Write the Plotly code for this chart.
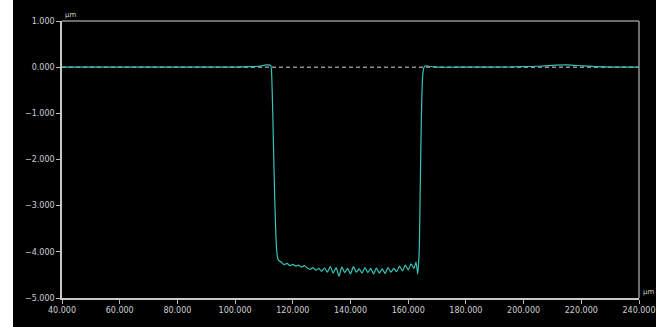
import plotly.graph_objects as go

# Profile data (x in µm, height in µm)
x_pos = [40, 60, 80, 100, 105, 108, 110, 111, 111.8, 112.4, 112.8, 113.2, 113.6, 114.0, 114.4, 114.8, 115.3,
         116, 117, 118, 119, 120, 121, 122, 123, 124, 125, 126, 127, 128, 129, 130,
         131, 132, 133, 134, 135, 136, 137, 138, 139, 140, 141, 142, 143, 144, 145,
         146, 147, 148, 149, 150, 151, 152, 153, 154, 155, 156, 157, 158, 159, 160,
         161, 162, 162.7, 163.3, 163.8, 164.2, 164.6, 165.0, 165.5, 166, 167, 170,
         180, 190, 200, 205, 210, 215, 220, 225, 230, 240]
height = [0.0, 0.0, 0.0, 0.0, 0.01, 0.02, 0.04, 0.05, 0.05, 0.03, -0.4, -1.4, -2.5, -3.4, -3.95, -4.15, -4.2,
          -4.22, -4.28, -4.25, -4.30, -4.27, -4.31, -4.29, -4.33, -4.30, -4.35, -4.38, -4.34, -4.40, -4.36, -4.42,
          -4.35, -4.44, -4.32, -4.46, -4.34, -4.53, -4.33, -4.45, -4.36, -4.48, -4.32, -4.44, -4.37, -4.46, -4.34,
          -4.45, -4.36, -4.48, -4.35, -4.46, -4.37, -4.47, -4.34, -4.44, -4.36, -4.43, -4.31, -4.41, -4.29, -4.39,
          -4.26, -4.36, -4.22, -4.48, -4.0, -2.5, -1.0, -0.2, 0.0, 0.03, 0.02, 0.0,
          0.0, 0.0, 0.01, 0.02, 0.04, 0.05, 0.03, 0.01, 0.0, 0.0]

ref_x = [40, 240]
ref_y = [0, 0]

x_ticks = [40, 60, 80, 100, 120, 140, 160, 180, 200, 220, 240]
y_ticks = [1, 0, -1, -2, -3, -4, -5]

fig = go.Figure()
fig.add_trace(go.Scatter(x=ref_x, y=ref_y, mode="lines",
                         line=dict(color="#d8d8d8", width=1, dash="4px,3px"),
                         hoverinfo="skip", showlegend=False))
fig.add_trace(go.Scatter(x=x_pos, y=height, mode="lines",
                         line=dict(color="#36c4b8", width=1.2, shape="spline", smoothing=0.6),
                         showlegend=False))

axis_common = dict(showgrid=False, zeroline=False, ticks="outside", ticklen=4,
                   tickcolor="#bbbbbb", tickwidth=1, tickformat=".3f", automargin=False,
                   tickfont=dict(family="DejaVu Sans", size=8, color="#d0d0d0"),
                   showline=True, linecolor="#c8c8c8", linewidth=1.5, mirror=False)

fig.update_layout(
    width=656, height=327,
    margin=dict(l=62, r=17, t=21, b=29),
    paper_bgcolor="black", plot_bgcolor="black",
    xaxis=dict(range=[40, 240], tickvals=x_ticks, **axis_common),
    yaxis=dict(range=[-5, 1], tickvals=y_ticks, **axis_common),
    shapes=[
        dict(type="rect", xref="paper", yref="paper", x0=-0.2, x1=(13 - 62) / 577,
             y0=-0.3, y1=1.2, fillcolor="white", line=dict(width=0), layer="below"),
        dict(type="line", xref="paper", yref="paper", x0=0, x1=1, y0=1, y1=1,
             line=dict(color="#909090", width=1.5)),
        dict(type="line", xref="paper", yref="paper", x0=1, x1=1, y0=0, y1=1,
             line=dict(color="#909090", width=1.5)),
    ],
    annotations=[
        dict(text="µm", xref="paper", yref="paper", x=0.002, y=1.0, xanchor="left",
             yanchor="bottom", showarrow=False,
             font=dict(family="DejaVu Sans", size=7, color="#d0d0d0")),
        dict(text="µm", xref="paper", yref="paper", x=1.003, y=0.0, xanchor="left",
             yanchor="bottom", showarrow=False,
             font=dict(family="DejaVu Sans", size=7, color="#d0d0d0")),
    ],
)

fig.write_html("out.html", config={"displayModeBar": False},
               post_script="document.body.style.margin='0';document.body.style.overflow='hidden';")
